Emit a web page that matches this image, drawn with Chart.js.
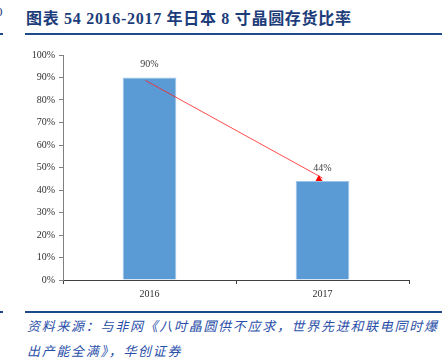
<!DOCTYPE html>
<html>
<head>
<meta charset="utf-8">
<script src="https://cdn.jsdelivr.net/npm/chart.js@4"></script>
<style>
  body { margin: 0; background: #fff; width: 442px; height: 360px; overflow: hidden; position: relative; }
  .title { position: absolute; left: 26px; top: 5px; font: bold 16px "Liberation Serif", "Noto Sans CJK SC", serif; color: #1c3d7a; white-space: nowrap; letter-spacing: 0.7px; }
  .rule { position: absolute; left: 25px; right: 0; height: 2px; background: #1f4a8a; }
  .src { position: absolute; left: 27px; font: italic 13px "Noto Sans CJK SC", sans-serif; color: #2a4fa8; letter-spacing: 1.7px; white-space: nowrap; }
  .frag { position: absolute; left: -4px; font: 13px "Liberation Serif", serif; color: #1c3d7a; }
  #wrap { position: absolute; left: 0; top: 40px; width: 442px; height: 265px; }
</style>
</head>
<body>
<div class="frag" style="top:4px">0</div>
<div class="rule" style="left:0;width:3px;top:33px"></div>
<div class="title">图表 54 2016-2017 年日本 8 寸晶圆存货比率</div>
<div class="rule" style="top:33px"></div>
<div id="wrap"><canvas id="c"></canvas></div>
<div class="rule" style="left:0;width:3px;top:311px"></div>
<div class="rule" style="top:311px"></div>
<div class="src" style="top:316px">资料来源：与非网《八吋晶圆供不应求，世界先进和联电同时爆</div>
<div class="src" style="top:341px">出产能全满》，华创证券</div>
<script>
// ══ DATA ════════════════════════════════════════════════════════
const years = ['2016', '2017'];
const inventoryRatio = [90, 44];
const yTicks = [0, 10, 20, 30, 40, 50, 60, 70, 80, 90, 100];

// labels above bars + red trend arrow between bar tops
const overlay = {
  id: 'overlay',
  afterDatasetsDraw(chart) {
    const ctx = chart.ctx;
    const meta = chart.getDatasetMeta(0);
    const y = chart.scales.y;
    ctx.save();
    ctx.font = '10px "Liberation Serif", serif';
    ctx.fillStyle = '#404040';
    ctx.textAlign = 'center';
    ctx.textBaseline = 'bottom';
    meta.data.forEach((bar, i) => {
      ctx.fillText(inventoryRatio[i] + '%', bar.x, bar.y - 8);
    });
    const x1 = meta.data[0].x - 4, y1 = y.getPixelForValue(inventoryRatio[0]) + 3;
    const x2 = meta.data[1].x, y2 = y.getPixelForValue(inventoryRatio[1]);
    ctx.strokeStyle = '#ff2020';
    ctx.lineWidth = 0.8;
    ctx.beginPath();
    ctx.moveTo(x1, y1);
    ctx.lineTo(x2, y2 - 3);
    ctx.stroke();
    const a = Math.atan2(y2 - y1, x2 - x1);
    ctx.fillStyle = '#ff0000';
    ctx.beginPath();
    ctx.moveTo(x2, y2);
    ctx.lineTo(x2 - 7 * Math.cos(a - 0.5), y2 - 7 * Math.sin(a - 0.5));
    ctx.lineTo(x2 - 7 * Math.cos(a + 0.5), y2 - 7 * Math.sin(a + 0.5));
    ctx.closePath();
    ctx.fill();
    ctx.restore();
  }
};

new Chart(document.getElementById('c'), {
  type: 'bar',
  data: {
    labels: years,
    datasets: [{ data: inventoryRatio, backgroundColor: '#5b9bd5', borderColor: '#9cc3e8', borderWidth: 1, categoryPercentage: 1, barPercentage: 0.31 }]
  },
  options: {
    responsive: true, maintainAspectRatio: false, animation: false,
    layout: { padding: { top: 15, right: 33, left: 0, bottom: 0 } },
    plugins: { legend: { display: false }, tooltip: { enabled: false } },
    scales: {
      x: {
        afterFit: s => { s.height = 25; },
        grid: { drawOnChartArea: false, tickLength: 4, color: '#404040', offset: true },
        border: { color: '#404040', width: 1 },
        ticks: { color: '#303030', font: { size: 10, family: 'Liberation Serif' }, padding: 4 }
      },
      y: {
        min: 0, max: 100,
        afterFit: s => { s.width = 63; },
        afterBuildTicks: s => { s.ticks = yTicks.map(v => ({ value: v })); },
        grid: { drawOnChartArea: false, tickLength: 4, color: '#808080' },
        border: { color: '#808080', width: 1 },
        ticks: { color: '#303030', font: { size: 10, family: 'Liberation Serif' }, padding: 4, callback: v => v + '%' }
      }
    }
  },
  plugins: [overlay]
});
</script>
</body>
</html>
